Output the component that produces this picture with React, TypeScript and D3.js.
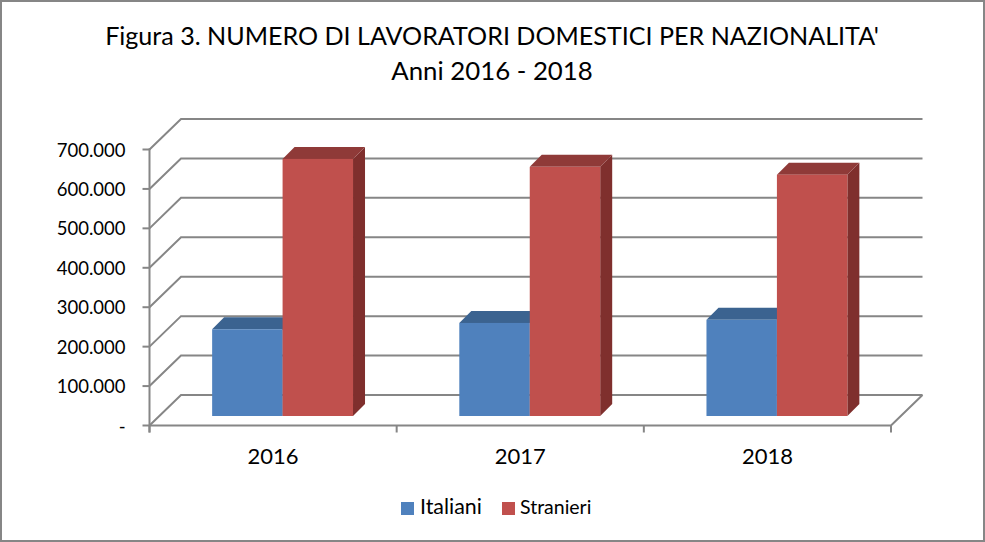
import React from 'react';
import * as d3 from 'd3';

const years = ['2016', '2017', '2018'];
const seriesNames = ['Italiani', 'Stranieri'];
const italiani = [220000, 236000, 244000];
const stranieri = [652000, 632000, 612000];
const titleLines = ["Figura 3. NUMERO DI LAVORATORI DOMESTICI PER NAZIONALITA'", 'Anni 2016 - 2018'];
const titleSizes = [25.1, 25.8];

const FONT = 'Lato, "Open Sans", sans-serif';
const colors = {
  Italiani: { front: '#4f81bd', top: '#3b6390', side: '#325478' },
  Stranieri: { front: '#c0504d', top: '#8f3a38', side: '#7f2f2d' },
};
const GRID = '#868686';

const width = 985;
const height = 542;

// front plane of the axis box, and how far back the walls sit
const left = 149.5;
const right = 891;
const bottom = 425.5;
const top = 149.5;
const wallX = 31.5;
const wallY = -30.5;
// bars stand inside the box, with their own small depth
const barShift = 9.5;
const barDepth = 12;

const y = d3.scaleLinear().domain([0, 700000]).range([bottom, top]);
const x0 = d3.scaleBand().domain(years).range([left, right]).paddingInner(0.43).paddingOuter(0.215);
const x1 = d3.scaleBand().domain(seriesNames).range([0, x0.bandwidth()]);
const tickFormat = d3.formatLocale({ decimal: ',', thousands: '.', grouping: [3], currency: ['€', ''] }).format(',.0f');

function Bar({ name, year, value }: { name: string; year: string; value: number }) {
  const c = colors[name];
  const xa = x0(year)! + x1(name)! + barShift;
  const xb = xa + x1.bandwidth();
  const ya = y(value) - barShift;
  const yb = y(0) - barShift;
  return (
    <g>
      <path d={`M${xb},${ya}L${xb + barDepth},${ya - barDepth}L${xb + barDepth},${yb - barDepth}L${xb},${yb}Z`} fill={c.side} />
      <path d={`M${xa},${ya}L${xa + barDepth},${ya - barDepth}L${xb + barDepth},${ya - barDepth}L${xb},${ya}Z`} fill={c.top} />
      <rect x={xa} y={ya} width={xb - xa} height={yb - ya} fill={c.front} />
    </g>
  );
}

export default function App() {
  const ticks = y.ticks(7);
  const legendItems = [
    { name: 'Italiani', sx: 401, tx: 420, size: 21.4 },
    { name: 'Stranieri', sx: 502, tx: 520, size: 19.5 },
  ];
  return (
    <svg width={width} height={height} style={{ position: 'absolute', left: 0, top: 0, background: '#fff' }}>
      <rect x={1} y={1} width={width - 2} height={height - 2} fill="#fff" stroke={GRID} strokeWidth={2} />

      {titleLines.map((t, i) => (
        <text key={i} x={492} y={45 + i * 35} textAnchor="middle" fontFamily={FONT} fontSize={titleSizes[i]} fill="#000">{t}</text>
      ))}

      {/* walls and floor */}
      <g stroke={GRID} fill="none" strokeWidth={2}>
        {ticks.map((t) => (
          <g key={t}>
            <path d={`M${left},${y(t)}L${left + wallX},${y(t) + wallY}L${right + wallX},${y(t) + wallY}`} />
            <path d={`M${left - 7},${y(t)}L${left},${y(t)}`} />
          </g>
        ))}
        <path d={`M${left},${top - 1}L${left},${bottom + 7}`} />
        <path d={`M${left},${bottom}L${right},${bottom}L${right + wallX},${bottom + wallY}`} />
        {d3.range(4).map((i) => {
          const px = left + x0.step() * i;
          return <path key={i} d={`M${px},${bottom}L${px},${bottom + 7}`} />;
        })}
      </g>

      {years.map((year, i) => (
        <g key={year}>
          <Bar name="Italiani" year={year} value={italiani[i]} />
          <Bar name="Stranieri" year={year} value={stranieri[i]} />
        </g>
      ))}

      {ticks.map((t) => (
        <text key={t} x={125.5} y={y(t) + 7} textAnchor="end" fontFamily={FONT} fontSize={18.5} fill="#000">
          {t === 0 ? '-' : tickFormat(t)}
        </text>
      ))}

      {years.map((year) => (
        <text key={year} x={x0(year)! + x0.bandwidth() / 2} y={464} textAnchor="middle" fontFamily={FONT} fontSize={22} fill="#000">{year}</text>
      ))}

      {legendItems.map((d) => (
        <g key={d.name}>
          <rect x={d.sx} y={502} width={13} height={13} fill={colors[d.name].front} />
          <text x={d.tx} y={514} fontFamily={FONT} fontSize={d.size} fill="#000">{d.name}</text>
        </g>
      ))}
    </svg>
  );
}
